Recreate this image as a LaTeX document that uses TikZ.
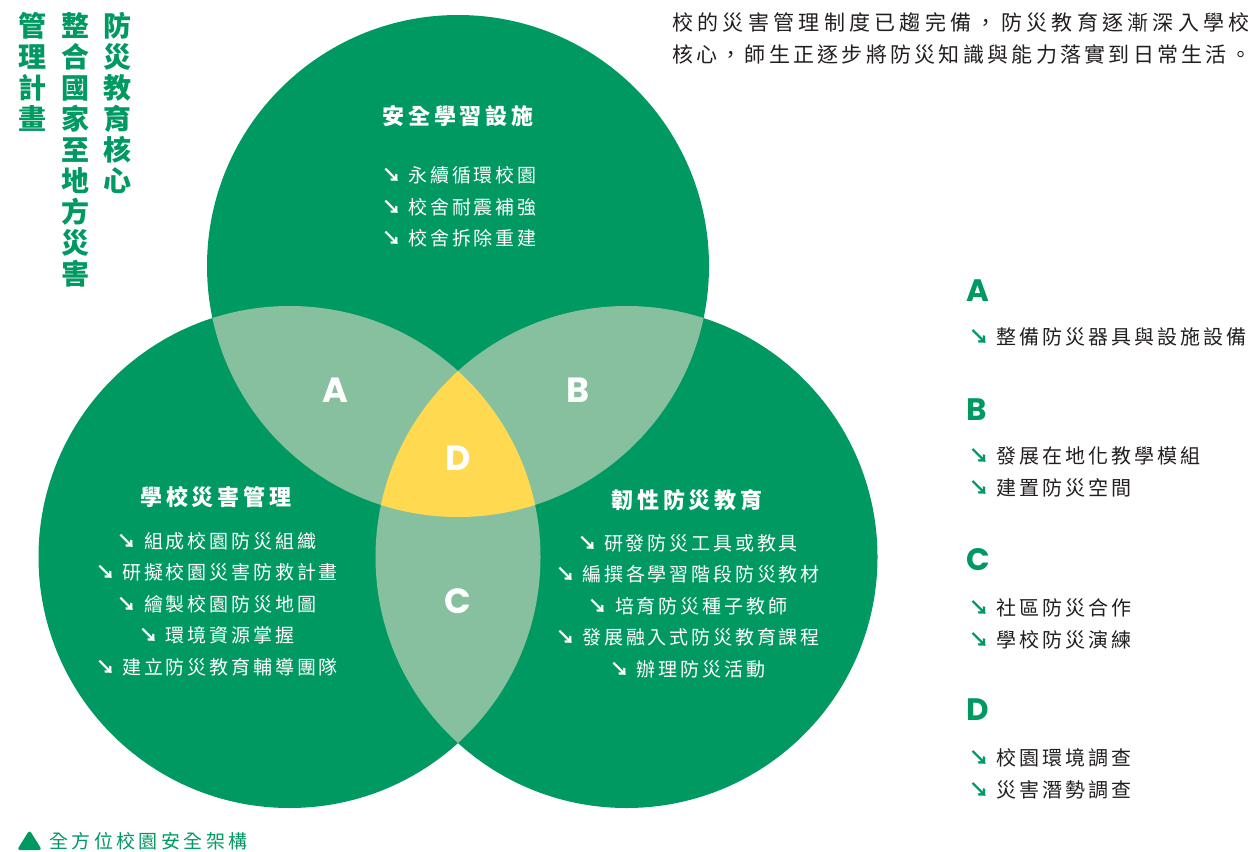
\documentclass[tikz,border=0pt]{standalone}
\usepackage{fontspec}
\newfontfamily\cjkV{Noto Sans CJK TC}
\newfontfamily\cjkS[LetterSpace=15]{Noto Sans CJK TC}
\newfontfamily\cjkLa[LetterSpace=20.5]{Noto Sans CJK TC}
\newfontfamily\cjkLb[LetterSpace=15.5]{Noto Sans CJK TC}
\newfontfamily\cjkT[LetterSpace=18]{Noto Sans CJK TC}
\newfontfamily\cjkG[LetterSpace=15]{Noto Sans CJK TC}
\newfontfamily\cjkC[LetterSpace=18]{Noto Sans CJK TC}
\newfontfamily\pop{Poppins}
\newcommand\arw{{\bfseries ↘}}
\definecolor{dg}{HTML}{009961}
\definecolor{lg}{HTML}{86C09E}
\definecolor{yl}{HTML}{FFD950}
\definecolor{tx}{HTML}{231F20}
\begin{document}
\begin{tikzpicture}[x=1pt,y=-1pt,
  ttl/.style={text=white,inner sep=0,font={\cjkT\bfseries\fontsize{22}{24}\selectfont}},
  itm/.style={text=white,inner sep=0,font={\cjkS\fontsize{19}{31.5}\selectfont}},
  lab/.style={text=white,inner sep=0,font={\pop\bfseries\fontsize{35}{40}\selectfont}},
  leg/.style={text=dg,inner sep=0,anchor=west,font={\pop\bfseries\fontsize{31}{34}\selectfont}},
  legi/.style={text=tx,inner sep=0,anchor=west,font={\cjkG\fontsize{20}{31.5}\selectfont},align=left},
  vert/.style={text=dg,inner sep=0,anchor=north,align=center,font={\cjkV\bfseries\fontsize{28}{31}\selectfont}},
  intro/.style={text=tx,inner sep=0,anchor=west},
]
\useasboundingbox (0,0) rectangle (1252,851);
\def\R{251pt}
\coordinate (T) at (458,266);
\coordinate (L) at (289.5,557);
\coordinate (Rc) at (626.5,557);
% circles
\fill[dg] (T) circle[radius=\R];
\fill[dg] (L) circle[radius=\R];
\fill[dg] (Rc) circle[radius=\R];
\begin{scope}
  \clip (T) circle[radius=\R];
  \fill[lg] (L) circle[radius=\R];
  \fill[lg] (Rc) circle[radius=\R];
\end{scope}
\begin{scope}
  \clip (L) circle[radius=\R];
  \fill[lg] (Rc) circle[radius=\R];
\end{scope}
\begin{scope}
  \clip (T) circle[radius=\R];
  \clip (L) circle[radius=\R];
  \fill[yl] (Rc) circle[radius=\R];
\end{scope}
% vertical title
\node[vert] (v1) at (117,12) {防\\災\\教\\育\\核\\心};
\node[vert] (v2) at (75,12) {整\\合\\國\\家\\至\\地\\方\\災\\害};
\node[vert] (v3) at (32,12) {管\\理\\計\\畫};
% intro text
\node[intro,font={\cjkLa\fontsize{21}{24}\selectfont}] (i1) at (672,22) {校的災害管理制度已趨完備，防災教育逐漸深入學校\kern-5pt};
\node[intro,font={\cjkLb\fontsize{21}{24}\selectfont}] (i2) at (672,54) {核心，師生正逐步將防災知識與能力落實到日常生活。\kern-13pt};
% top circle
\node[ttl] (t1) at (458,116) {安全學習設施};
\node[itm,anchor=west,align=left] (t2) at (382,207) {\arw{} 永續循環校園\\\arw{} 校舍耐震補強\\\arw{} 校舍拆除重建};
% left circle
\node[ttl] (l1) at (216,497) {學校災害管理};
\node[itm,align=center] (l2) at (217,604) {\arw{} 組成校園防災組織\\\arw{} 研擬校園災害防救計畫\\\arw{} 繪製校園防災地圖\\\arw{} 環境資源掌握\\\arw{} 建立防災教育輔導團隊};
% right circle
\node[ttl] (r1) at (687,500) {韌性防災教育};
\node[itm,align=center] (r2) at (688,606) {\arw{} 研發防災工具或教具\\\arw{} 編撰各學習階段防災教材\\\arw{} 培育防災種子教師\\\arw{} 發展融入式防災教育課程\\\arw{} 辦理防災活動};
% region labels
\node[lab] (A) at (335,390) {A};
\node[lab] (B) at (578,390) {B};
\node[lab] (D) at (458,458) {D};
\node[lab] (C) at (458,601) {C};
% legend
\node[leg] (LA) at (966,291) {A};
\node[legi] (LA1) at (969,337) {\textcolor{dg}{\arw} 整備防災器具與設施設備};
\node[leg] (LB) at (966,410) {B};
\node[legi] (LB1) at (969,472) {\textcolor{dg}{\arw} 發展在地化教學模組\\\textcolor{dg}{\arw} 建置防災空間};
\node[leg] (LC) at (966,560) {C};
\node[legi] (LC1) at (969,624) {\textcolor{dg}{\arw} 社區防災合作\\\textcolor{dg}{\arw} 學校防災演練};
\node[leg] (LD) at (966,710) {D};
\node[legi] (LD1) at (969,774) {\textcolor{dg}{\arw} 校園環境調查\\\textcolor{dg}{\arw} 災害潛勢調查};
% caption
\fill[dg,rounded corners=3pt] (17,850) -- (29.5,830) -- (42,850) -- cycle;
\node[text=dg,inner sep=0,anchor=west,font={\cjkC\fontsize{19}{22}\selectfont}] (cap) at (49,841) {全方位校園安全架構};
\end{tikzpicture}
\end{document}
